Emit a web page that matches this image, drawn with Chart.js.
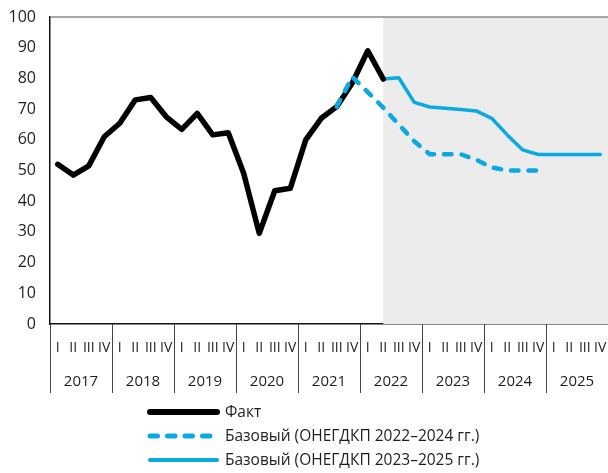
<!DOCTYPE html>
<html>
<head>
<meta charset="utf-8">
<script src="https://cdn.jsdelivr.net/npm/chart.js@4"></script>
<style>
	html, body { margin: 0; padding: 0; background: #fff; }
	#wrap { width: 608px; height: 473px; }
</style>
</head>
<body>
<div id="wrap"><canvas id="main_chart" width="608" height="473"></canvas></div>
<script>
// quarters 2017 Q1 .. 2025 Q4
var years = ['2017', '2018', '2019', '2020', '2021', '2022', '2023', '2024', '2025'];
var quarterNames = ['I', 'II', 'III', 'IV'];
var yTicks = [0, 10, 20, 30, 40, 50, 60, 70, 80, 90, 100];

var factValues = [52, 48.5, 51.5, 61, 65.4, 73, 73.8, 67.5, 63.4, 68.6, 61.6, 62.3,
	49, 29.5, 43.4, 44.2, 60, 67, 70.8, 78.5, 89, 79.8];
// 2022-2024 baseline starts at 2021 Q3
var base22Start = 18;
var base22Values = [70.8, 80.5, 75.5, 70.5, 65, 59.5, 55.3, 55.3, 55.3, 53.5, 51, 50, 50, 50];
// 2023-2025 baseline starts at 2022 Q2
var base23Start = 21;
var base23Values = [79.8, 80.2, 72.2, 70.7, 70.3, 69.9, 69.4, 67, 61.6, 56.7, 55.2, 55.2, 55.2, 55.2, 55.2];
// forecast shading begins at 2022 Q2
var shadeFrom = 21;

var legendNames = ['Факт', 'Базовый (ОНЕГДКП 2022–2024 гг.)', 'Базовый (ОНЕГДКП 2023–2025 гг.)'];

var BLUE = '#0aa9e2';
var TXT = '#1e1e1e';

var labels = [];
for (var y = 0; y < years.length; y++) {
	for (var q = 0; q < 4; q++) {
		labels.push(years[y] + ' ' + quarterNames[q]);
	}
}

function padSeries(start, vals) {
	var out = [];
	for (var i = 0; i < labels.length; i++) {
		var k = i - start;
		out.push(k >= 0 && k < vals.length ? vals[k] : null);
	}
	return out;
}

// kill the automatic label padding so the plot area is exactly where we want it
function noPad(s) {
	s.paddingLeft = 0;
	s.paddingRight = 0;
	s.paddingTop = 0;
	s.paddingBottom = 0;
}

var extras = {
	id: 'extras',
	beforeDatasetsDraw: function(chart) {
		var ctx = chart.ctx, a = chart.chartArea, xs = chart.scales.x;
		var x0 = xs.getPixelForValue(shadeFrom);
		ctx.save();
		ctx.fillStyle = '#ececec';
		ctx.fillRect(x0, a.top, a.right - x0, a.bottom - a.top);
		// top frame line
		ctx.strokeStyle = '#8a8a8a';
		ctx.lineWidth = 1.5;
		ctx.beginPath();
		ctx.moveTo(a.left, a.top);
		ctx.lineTo(a.right, a.top);
		ctx.stroke();
		ctx.restore();
	},
	afterDraw: function(chart) {
		var ctx = chart.ctx, a = chart.chartArea, xs = chart.scales.x;
		var step = xs.getPixelForValue(1) - xs.getPixelForValue(0);
		ctx.save();
		// year separators and year labels
		ctx.strokeStyle = '#444';
		ctx.lineWidth = 1;
		ctx.font = '15px "Open Sans"';
		ctx.fillStyle = TXT;
		ctx.textAlign = 'center';
		ctx.textBaseline = 'middle';
		for (var i = 0; i < years.length; i++) {
			var left = xs.getPixelForValue(i * 4) - step / 2;
			var xx = Math.round(left) + 0.5;
			ctx.beginPath();
			ctx.moveTo(xx, a.bottom);
			ctx.lineTo(xx, a.bottom + 69);
			ctx.stroke();
			ctx.fillText(years[i], left + step * 2, a.bottom + 58);
		}
		// legend
		var ds = chart.data.datasets;
		var rows = [412, 436, 460];
		ctx.textAlign = 'left';
		ctx.font = '15.5px "Open Sans"';
		for (var j = 0; j < ds.length; j++) {
			ctx.strokeStyle = ds[j].borderColor;
			ctx.lineWidth = ds[j].legendWidth;
			ctx.lineCap = 'round';
			ctx.setLineDash(ds[j].borderDash || []);
			ctx.beginPath();
			ctx.moveTo(150, rows[j]);
			ctx.lineTo(217, rows[j]);
			ctx.stroke();
			ctx.setLineDash([]);
			ctx.fillStyle = TXT;
			ctx.fillText(legendNames[j], 225, rows[j] + 1);
		}
		ctx.restore();
	}
};

var ctx = document.getElementById('main_chart').getContext('2d');
var chart = new Chart(ctx, {
	type: 'line',
	plugins: [extras],
	data: {
		labels: labels,
		datasets: [{
			label: legendNames[0],
			data: padSeries(0, factValues),
			borderColor: '#000',
			borderWidth: 5.5,
			legendWidth: 6,
			borderJoinStyle: 'round',
			borderCapStyle: 'round',
			order: 1
		}, {
			label: legendNames[1],
			data: padSeries(base22Start, base22Values),
			borderColor: BLUE,
			borderWidth: 4.5,
			legendWidth: 5,
			borderDash: [7.5, 10],
			borderCapStyle: 'round',
			borderJoinStyle: 'round',
			order: 0
		}, {
			label: legendNames[2],
			data: padSeries(base23Start, base23Values),
			borderColor: BLUE,
			borderWidth: 3.5,
			legendWidth: 4,
			borderCapStyle: 'round',
			borderJoinStyle: 'round',
			order: 2
		}]
	},
	options: {
		responsive: false,
		animation: false,
		spanGaps: false,
		elements: {
			point: { radius: 0 },
			line: { tension: 0, fill: false }
		},
		layout: { padding: { top: 17, right: 0, left: 0, bottom: 0 } },
		plugins: {
			legend: { display: false },
			tooltip: { enabled: false }
		},
		scales: {
			x: {
				type: 'category',
				offset: true,
				grid: { display: false, drawTicks: false },
				border: { display: true, color: '#111', width: 1.5 },
				afterFit: function(s) { s.height = 149; noPad(s); },
				ticks: {
					autoSkip: false,
					maxRotation: 0,
					padding: 16,
					color: TXT,
					font: { family: 'Open Sans', size: 14 },
					callback: function(v, i) { return quarterNames[i % 4]; }
				}
			},
			y: {
				min: 0,
				max: 100,
				afterFit: function(s) { s.width = 50; noPad(s); },
				afterBuildTicks: function(s) {
					s.ticks = yTicks.map(function(v) { return { value: v }; });
				},
				grid: { display: false, drawTicks: false },
				border: { display: true, color: '#111', width: 1.5 },
				ticks: {
					padding: 14,
					color: TXT,
					font: { family: 'Open Sans', size: 16 }
				}
			}
		}
	}
});
</script>
</body>
</html>
